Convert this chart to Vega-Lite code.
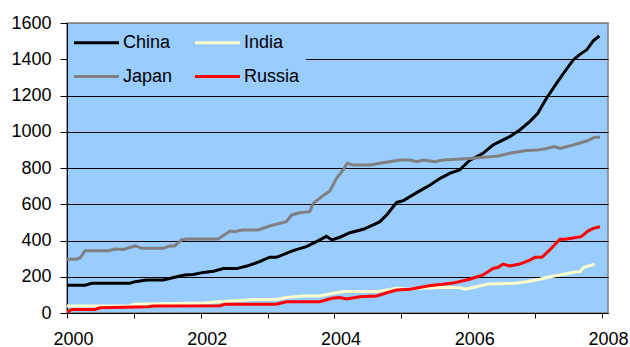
{
  "$schema": "https://vega.github.io/schema/vega-lite/v6.json",
  "width": 541,
  "height": 290,
  "autosize": {"type": "none"},
  "padding": {"left": 67, "top": 23, "right": 22, "bottom": 34},
  "background": "#ffffff",
  "config": {
    "view": {"fill": "#99CCFF", "stroke": "#808080", "strokeWidth": 1.5},
    "font": "Liberation Sans"
  },
  "data": {
    "values": [
      {"c": "China", "t": 2000.00, "v": 153},
      {"c": "China", "t": 2000.27, "v": 153},
      {"c": "China", "t": 2000.37, "v": 164},
      {"c": "China", "t": 2000.94, "v": 164},
      {"c": "China", "t": 2001.02, "v": 173},
      {"c": "China", "t": 2001.19, "v": 182},
      {"c": "China", "t": 2001.44, "v": 182},
      {"c": "China", "t": 2001.61, "v": 197},
      {"c": "China", "t": 2001.76, "v": 210},
      {"c": "China", "t": 2001.89, "v": 213},
      {"c": "China", "t": 2002.04, "v": 224},
      {"c": "China", "t": 2002.19, "v": 230},
      {"c": "China", "t": 2002.34, "v": 245},
      {"c": "China", "t": 2002.54, "v": 245},
      {"c": "China", "t": 2002.69, "v": 259},
      {"c": "China", "t": 2002.88, "v": 283},
      {"c": "China", "t": 2003.03, "v": 308},
      {"c": "China", "t": 2003.13, "v": 307},
      {"c": "China", "t": 2003.28, "v": 329},
      {"c": "China", "t": 2003.38, "v": 344},
      {"c": "China", "t": 2003.58, "v": 366},
      {"c": "China", "t": 2003.76, "v": 399},
      {"c": "China", "t": 2003.88, "v": 423},
      {"c": "China", "t": 2003.96, "v": 403},
      {"c": "China", "t": 2004.08, "v": 418},
      {"c": "China", "t": 2004.23, "v": 443},
      {"c": "China", "t": 2004.43, "v": 462},
      {"c": "China", "t": 2004.58, "v": 486},
      {"c": "China", "t": 2004.68, "v": 504},
      {"c": "China", "t": 2004.79, "v": 545},
      {"c": "China", "t": 2004.93, "v": 610},
      {"c": "China", "t": 2005.03, "v": 620},
      {"c": "China", "t": 2005.23, "v": 664},
      {"c": "China", "t": 2005.43, "v": 706},
      {"c": "China", "t": 2005.58, "v": 743},
      {"c": "China", "t": 2005.73, "v": 772},
      {"c": "China", "t": 2005.87, "v": 789},
      {"c": "China", "t": 2006.02, "v": 842},
      {"c": "China", "t": 2006.22, "v": 881},
      {"c": "China", "t": 2006.37, "v": 927},
      {"c": "China", "t": 2006.47, "v": 945},
      {"c": "China", "t": 2006.62, "v": 973},
      {"c": "China", "t": 2006.77, "v": 1010},
      {"c": "China", "t": 2006.92, "v": 1056},
      {"c": "China", "t": 2007.04, "v": 1102},
      {"c": "China", "t": 2007.17, "v": 1185},
      {"c": "China", "t": 2007.32, "v": 1267},
      {"c": "China", "t": 2007.44, "v": 1331},
      {"c": "China", "t": 2007.57, "v": 1396},
      {"c": "China", "t": 2007.67, "v": 1427},
      {"c": "China", "t": 2007.77, "v": 1451},
      {"c": "China", "t": 2007.87, "v": 1502},
      {"c": "China", "t": 2007.96, "v": 1528},

      {"c": "India", "t": 2000.00, "v": 38},
      {"c": "India", "t": 2000.95, "v": 40},
      {"c": "India", "t": 2001.00, "v": 48},
      {"c": "India", "t": 2002.03, "v": 55},
      {"c": "India", "t": 2002.44, "v": 66},
      {"c": "India", "t": 2002.88, "v": 75},
      {"c": "India", "t": 2003.13, "v": 75},
      {"c": "India", "t": 2003.28, "v": 86},
      {"c": "India", "t": 2003.53, "v": 94},
      {"c": "India", "t": 2003.78, "v": 94},
      {"c": "India", "t": 2003.96, "v": 108},
      {"c": "India", "t": 2004.15, "v": 118},
      {"c": "India", "t": 2004.63, "v": 118},
      {"c": "India", "t": 2004.78, "v": 127},
      {"c": "India", "t": 2004.93, "v": 136},
      {"c": "India", "t": 2005.13, "v": 131},
      {"c": "India", "t": 2005.23, "v": 136},
      {"c": "India", "t": 2005.43, "v": 138},
      {"c": "India", "t": 2005.68, "v": 142},
      {"c": "India", "t": 2005.87, "v": 140},
      {"c": "India", "t": 2005.95, "v": 131},
      {"c": "India", "t": 2006.12, "v": 145},
      {"c": "India", "t": 2006.30, "v": 160},
      {"c": "India", "t": 2006.70, "v": 164},
      {"c": "India", "t": 2006.87, "v": 173},
      {"c": "India", "t": 2007.07, "v": 186},
      {"c": "India", "t": 2007.22, "v": 200},
      {"c": "India", "t": 2007.37, "v": 210},
      {"c": "India", "t": 2007.60, "v": 226},
      {"c": "India", "t": 2007.67, "v": 228},
      {"c": "India", "t": 2007.73, "v": 252},
      {"c": "India", "t": 2007.89, "v": 270},

      {"c": "Japan", "t": 2000.00, "v": 296},
      {"c": "Japan", "t": 2000.14, "v": 296},
      {"c": "Japan", "t": 2000.20, "v": 305},
      {"c": "Japan", "t": 2000.27, "v": 344},
      {"c": "Japan", "t": 2000.62, "v": 344},
      {"c": "Japan", "t": 2000.72, "v": 353},
      {"c": "Japan", "t": 2000.84, "v": 351},
      {"c": "Japan", "t": 2001.02, "v": 370},
      {"c": "Japan", "t": 2001.12, "v": 357},
      {"c": "Japan", "t": 2001.44, "v": 357},
      {"c": "Japan", "t": 2001.54, "v": 370},
      {"c": "Japan", "t": 2001.61, "v": 370},
      {"c": "Japan", "t": 2001.71, "v": 403},
      {"c": "Japan", "t": 2001.79, "v": 408},
      {"c": "Japan", "t": 2002.26, "v": 408},
      {"c": "Japan", "t": 2002.44, "v": 452},
      {"c": "Japan", "t": 2002.51, "v": 449},
      {"c": "Japan", "t": 2002.61, "v": 458},
      {"c": "Japan", "t": 2002.86, "v": 458},
      {"c": "Japan", "t": 2003.03, "v": 480},
      {"c": "Japan", "t": 2003.28, "v": 504},
      {"c": "Japan", "t": 2003.36, "v": 541},
      {"c": "Japan", "t": 2003.48, "v": 553},
      {"c": "Japan", "t": 2003.63, "v": 559},
      {"c": "Japan", "t": 2003.68, "v": 605},
      {"c": "Japan", "t": 2003.81, "v": 642},
      {"c": "Japan", "t": 2003.93, "v": 673},
      {"c": "Japan", "t": 2004.03, "v": 743},
      {"c": "Japan", "t": 2004.13, "v": 789},
      {"c": "Japan", "t": 2004.19, "v": 826},
      {"c": "Japan", "t": 2004.28, "v": 817},
      {"c": "Japan", "t": 2004.53, "v": 817},
      {"c": "Japan", "t": 2004.68, "v": 826},
      {"c": "Japan", "t": 2004.98, "v": 844},
      {"c": "Japan", "t": 2005.13, "v": 844},
      {"c": "Japan", "t": 2005.23, "v": 835},
      {"c": "Japan", "t": 2005.33, "v": 844},
      {"c": "Japan", "t": 2005.50, "v": 835},
      {"c": "Japan", "t": 2005.62, "v": 844},
      {"c": "Japan", "t": 2006.02, "v": 853},
      {"c": "Japan", "t": 2006.45, "v": 866},
      {"c": "Japan", "t": 2006.62, "v": 881},
      {"c": "Japan", "t": 2006.87, "v": 896},
      {"c": "Japan", "t": 2007.04, "v": 899},
      {"c": "Japan", "t": 2007.17, "v": 908},
      {"c": "Japan", "t": 2007.29, "v": 918},
      {"c": "Japan", "t": 2007.37, "v": 908},
      {"c": "Japan", "t": 2007.57, "v": 927},
      {"c": "Japan", "t": 2007.77, "v": 949},
      {"c": "Japan", "t": 2007.89, "v": 969},
      {"c": "Japan", "t": 2007.97, "v": 969},

      {"c": "Russia", "t": 2000.00, "v": 5},
      {"c": "Russia", "t": 2000.07, "v": 20},
      {"c": "Russia", "t": 2000.42, "v": 20},
      {"c": "Russia", "t": 2000.49, "v": 29},
      {"c": "Russia", "t": 2001.22, "v": 35},
      {"c": "Russia", "t": 2001.29, "v": 39},
      {"c": "Russia", "t": 2002.29, "v": 40},
      {"c": "Russia", "t": 2002.36, "v": 48},
      {"c": "Russia", "t": 2003.13, "v": 48},
      {"c": "Russia", "t": 2003.28, "v": 62},
      {"c": "Russia", "t": 2003.78, "v": 62},
      {"c": "Russia", "t": 2003.96, "v": 81},
      {"c": "Russia", "t": 2004.08, "v": 86},
      {"c": "Russia", "t": 2004.18, "v": 78},
      {"c": "Russia", "t": 2004.38, "v": 90},
      {"c": "Russia", "t": 2004.63, "v": 94},
      {"c": "Russia", "t": 2004.78, "v": 112},
      {"c": "Russia", "t": 2004.93, "v": 127},
      {"c": "Russia", "t": 2005.13, "v": 131},
      {"c": "Russia", "t": 2005.33, "v": 145},
      {"c": "Russia", "t": 2005.43, "v": 152},
      {"c": "Russia", "t": 2005.62, "v": 158},
      {"c": "Russia", "t": 2005.77, "v": 165},
      {"c": "Russia", "t": 2006.02, "v": 186},
      {"c": "Russia", "t": 2006.22, "v": 210},
      {"c": "Russia", "t": 2006.37, "v": 246},
      {"c": "Russia", "t": 2006.45, "v": 252},
      {"c": "Russia", "t": 2006.52, "v": 270},
      {"c": "Russia", "t": 2006.62, "v": 259},
      {"c": "Russia", "t": 2006.77, "v": 270},
      {"c": "Russia", "t": 2006.92, "v": 292},
      {"c": "Russia", "t": 2007.00, "v": 307},
      {"c": "Russia", "t": 2007.10, "v": 307},
      {"c": "Russia", "t": 2007.22, "v": 348},
      {"c": "Russia", "t": 2007.37, "v": 407},
      {"c": "Russia", "t": 2007.44, "v": 407},
      {"c": "Russia", "t": 2007.57, "v": 414},
      {"c": "Russia", "t": 2007.69, "v": 421},
      {"c": "Russia", "t": 2007.79, "v": 452},
      {"c": "Russia", "t": 2007.87, "v": 467},
      {"c": "Russia", "t": 2007.97, "v": 476}
    ]
  },
  "mark": {"type": "line", "strokeWidth": 3, "clip": true},
  "encoding": {
    "x": {
      "field": "t",
      "type": "quantitative",
      "scale": {"domain": [2000, 2008.09], "nice": false, "zero": false},
      "axis": {
        "title": null,
        "grid": false,
        "values": [2000, 2001, 2002, 2003, 2004, 2005, 2006, 2007, 2008],
        "labelExpr": "datum.value % 2 == 0 ? format(datum.value, 'd') : ''",
        "labelOverlap": false,
        "labelFlush": false,
        "labelFont": "Liberation Sans",
        "labelFontSize": 18,
        "labelColor": "#000000",
        "labelPadding": 12,
        "labelOffset": 6,
        "domainColor": "#000000",
        "tickColor": "#000000",
        "tickSize": 5
      }
    },
    "y": {
      "field": "v",
      "type": "quantitative",
      "scale": {"domain": [0, 1600], "nice": false},
      "axis": {
        "title": null,
        "values": [0, 200, 400, 600, 800, 1000, 1200, 1400, 1600],
        "format": "d",
        "grid": true,
        "gridColor": {"condition": {"test": "datum.value == 1600", "value": "#808080"}, "value": "#000000"},
        "gridWidth": 1,
        "gridOpacity": 1,
        "labelFont": "Liberation Sans",
        "labelFontSize": 18,
        "labelColor": "#000000",
        "labelPadding": 9,
        "domainColor": "#000000",
        "tickColor": "#000000",
        "tickSize": 7
      }
    },
    "color": {
      "field": "c",
      "type": "nominal",
      "scale": {
        "domain": ["China", "India", "Japan", "Russia"],
        "range": ["#000000", "#FFFFCC", "#808080", "#FF0000"]
      },
      "legend": {
        "title": null,
        "orient": "none",
        "direction": "horizontal",
        "legendX": 1,
        "legendY": 3,
        "columns": 2,
        "symbolType": "M-2.5,0H2.5",
        "symbolSize": 324,
        "symbolStrokeWidth": 3,
        "symbolOffset": 12,
        "labelOffset": 16,
        "labelFont": "Liberation Sans",
        "labelFontSize": 18,
        "labelColor": "#000000",
        "fillColor": "#99CCFF",
        "padding": 6,
        "rowPadding": 14,
        "columnPadding": 16
      }
    }
  }
}
